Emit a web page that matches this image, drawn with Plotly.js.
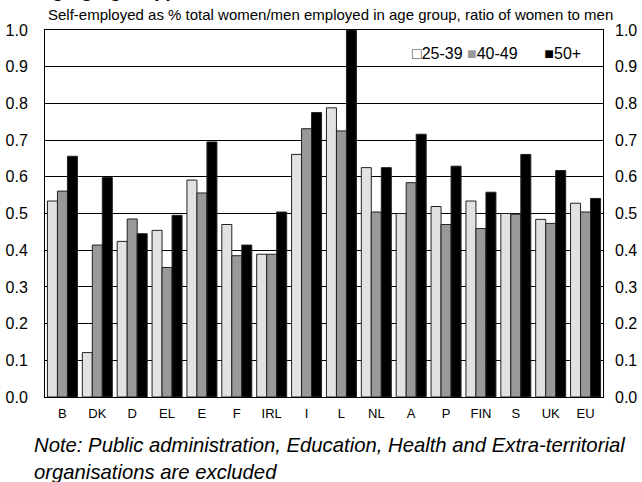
<!DOCTYPE html>
<html>
<head>
<meta charset="utf-8">
<script src="https://cdn.plot.ly/plotly-3.0.1.min.js"></script>
<style>
html,body{margin:0;padding:0;background:#fff;}
#chart{width:642px;height:482px;}
</style>
</head>
<body>
<div id="chart"></div>
<script>
var countries = ["B","DK","D","EL","E","F","IRL","I","L","NL","A","P","FIN","S","UK","EU"];
var age25_39 = [0.534,0.121,0.424,0.454,0.591,0.470,0.389,0.661,0.788,0.625,0.500,0.519,0.534,0.500,0.484,0.528];
var age40_49 = [0.561,0.414,0.485,0.353,0.556,0.385,0.389,0.731,0.725,0.504,0.584,0.470,0.459,0.498,0.473,0.504];
var age50plus = [0.656,0.598,0.445,0.495,0.695,0.414,0.504,0.775,1.000,0.625,0.716,0.629,0.558,0.661,0.617,0.541];
var seriesNames = ["25-39","40-49","50+"];
var yTicks = [0,0.1,0.2,0.3,0.4,0.5,0.6,0.7,0.8,0.9,1.0];
var chartTitle = "Self-employed as % total women/men employed in age group, ratio of women to men";
var noteLine1 = "Note: Public administration, Education, Health and Extra-territorial";
var noteLine2 = "organisations are excluded";
var topFragment = "ing age group),";

var FONT = "Liberation Sans, Arial, sans-serif";
var fills = ["#e2e2e2","#999999","#000000"];
var data = [age25_39, age40_49, age50plus].map(function(vals, i){
  return {
    type: "bar",
    name: seriesNames[i],
    x: countries,
    y: vals,
    marker: {color: fills[i], line: {color: "#222", width: 1}},
    showlegend: false,
    hoverinfo: "x+y+name"
  };
});
// invisible helper trace so the right-side axis labels are drawn
data.push({type:"scatter", x:[countries[0]], y:[0], yaxis:"y2", mode:"markers",
  marker:{opacity:0, size:1}, showlegend:false, hoverinfo:"skip"});

// compact legend (swatch directly before label, as in the reference)
var NB = "\u00A0";
var legendText =
  "<span style='color:#444'>\u25A1</span>" + seriesNames[0] + NB +
  "<span style='color:" + fills[1] + "'>\u25A0</span>" + seriesNames[1] + NB + NB + NB + NB + NB + NB +
  "<span style='color:" + fills[2] + "'>\u25A0</span>" + seriesNames[2];

var layout = {
  width: 642, height: 482,
  margin: {l: 45, r: 39, t: 30, b: 85, pad: 0},
  paper_bgcolor: "#fff", plot_bgcolor: "#fff",
  font: {family: FONT, color: "#000", size: 16},
  barmode: "group",
  bargap: 0.14,
  bargroupgap: 0,
  showlegend: false,
  xaxis: {
    type: "category",
    range: [-0.5, countries.length - 0.5],
    showline: true, linecolor: "#000", linewidth: 1, mirror: true,
    ticks: "", showgrid: false,
    tickfont: {family: FONT, size: 13, color: "#000"},
    ticklabelstandoff: 4,
    fixedrange: true
  },
  yaxis: {
    range: [0, 1],
    tickvals: yTicks,
    tickformat: ".1f",
    showline: true, linecolor: "#000", linewidth: 1, mirror: true,
    showgrid: true, gridcolor: "#000", gridwidth: 1,
    zeroline: false,
    ticks: "",
    ticklabelstandoff: 13,
    tickfont: {family: FONT, size: 16, color: "#000"},
    fixedrange: true
  },
  yaxis2: {
    range: [0, 1],
    overlaying: "y",
    side: "right",
    tickvals: yTicks,
    tickformat: ".1f",
    showgrid: false, zeroline: false, showline: false,
    ticks: "",
    ticklabelstandoff: 11,
    tickfont: {family: FONT, size: 16, color: "#000"},
    fixedrange: true
  },
  annotations: [
    {text: chartTitle, xref: "paper", yref: "paper", x: 0.5125, y: 1.0,
     xanchor: "center", yanchor: "bottom", yshift: 5, showarrow: false,
     font: {family: FONT, size: 15, color: "#000"}},
    {text: "<b>" + topFragment + "</b>", xref: "paper", yref: "paper", x: 0.242, y: 1.074,
     xanchor: "right", yanchor: "bottom", showarrow: false,
     font: {family: FONT, size: 20, color: "#000"}},
    {text: legendText, xref: "paper", yref: "paper", x: 0.654, y: 0.935,
     xanchor: "left", yanchor: "middle", showarrow: false,
     font: {family: FONT, size: 16, color: "#000"}},
    {text: "<i>" + noteLine1 + "</i>", xref: "paper", yref: "paper", x: -0.0233, y: -0.095,
     xanchor: "left", yanchor: "top", showarrow: false,
     font: {family: FONT, size: 20.3, color: "#000"}},
    {text: "<i>" + noteLine2 + "</i>", xref: "paper", yref: "paper", x: -0.0233, y: -0.168,
     xanchor: "left", yanchor: "top", showarrow: false,
     font: {family: FONT, size: 20.3, color: "#000"}}
  ]
};

Plotly.newPlot("chart", data, layout, {staticPlot: true, displayModeBar: false});
</script>
</body>
</html>
